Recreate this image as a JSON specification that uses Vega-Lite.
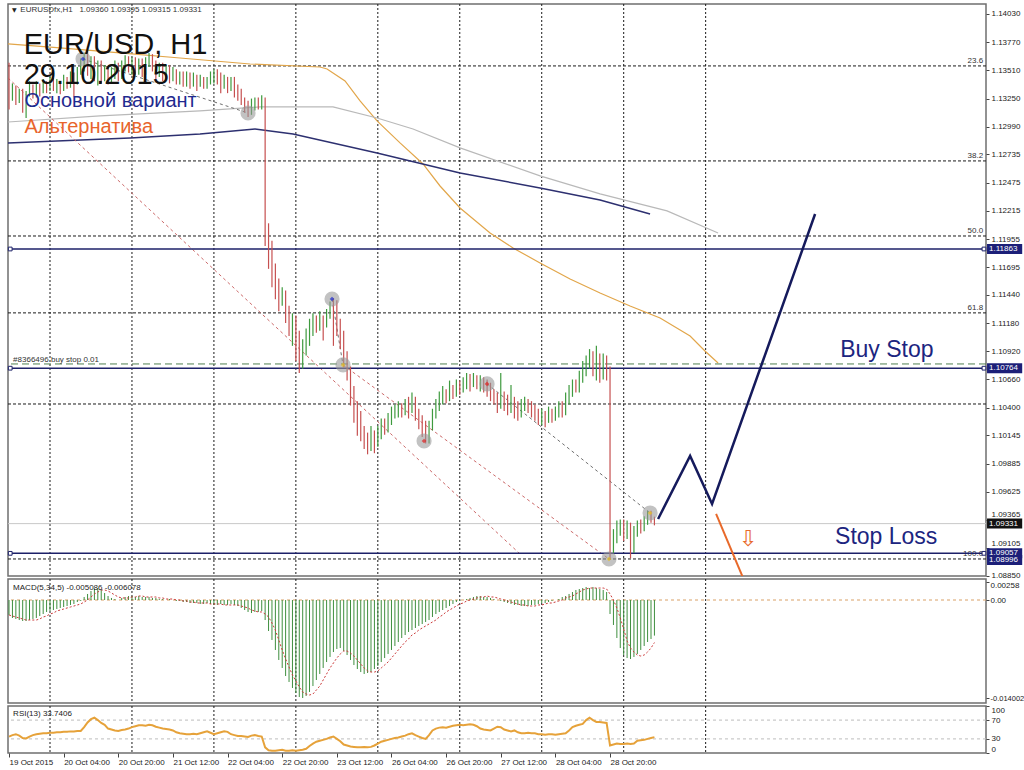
{
"$schema":"https://vega.github.io/schema/vega-lite/v6.json",
"padding":{"left":4,"top":2,"right":0,"bottom":0},
"background":"#ffffff",
"spacing":3,
"bounds":"flush",
"config":{"font":"Liberation Sans","view":{"stroke":"#6f6f6f","strokeWidth":1.5},"axis":{"labelFont":"Liberation Sans","labelFontSize":8,"labelColor":"#222","tickColor":"#444","domain":false,"grid":false,"title":null,"labelOverlap":false}},
"resolve":{"scale":{"x":"independent","y":"independent","color":"independent"}},
"datasets":{
"grid":[{"i":12},{"i":36},{"i":60},{"i":84},{"i":108},{"i":132},{"i":156},{"i":180},{"i":204}],
"fibo":[{"p":1.13551,"t":"23.6"},{"p":1.12675,"t":"38.2"},{"p":1.11983,"t":"50.0"},{"p":1.11274,"t":"61.8"},{"p":1.10434,"t":""},{"p":1.09005,"t":"100.0"}],
"ma":[
{"g":"ma1","i":-0.3,"p":1.13754},{"g":"ma1","i":14.93,"p":1.13717},{"g":"ma1","i":32.5,"p":1.13671},{"g":"ma1","i":50.07,"p":1.13624},{"g":"ma1","i":70.58,"p":1.13569},{"g":"ma1","i":91.08,"p":1.13541},{"g":"ma1","i":93.13,"p":1.13523},{"g":"ma1","i":98.4,"p":1.13412},{"g":"ma1","i":102.8,"p":1.13228},{"g":"ma1","i":107.77,"p":1.13044},{"g":"ma1","i":114.5,"p":1.12841},{"g":"ma1","i":121.24,"p":1.12647},{"g":"ma1","i":126.22,"p":1.12444},{"g":"ma1","i":132.08,"p":1.12241},{"g":"ma1","i":140.87,"p":1.12011},{"g":"ma1","i":147.6,"p":1.11873},{"g":"ma1","i":155.51,"p":1.11734},{"g":"ma1","i":164.3,"p":1.11587},{"g":"ma1","i":173.08,"p":1.11458},{"g":"ma1","i":181.87,"p":1.11338},{"g":"ma1","i":190.66,"p":1.11227},{"g":"ma1","i":199.45,"p":1.11061},{"g":"ma1","i":203.8,"p":1.10923},{"g":"ma1","i":207.64,"p":1.10812},
{"g":"ma2","i":-0.3,"p":1.13034},{"g":"ma2","i":26.64,"p":1.1309},{"g":"ma2","i":55.93,"p":1.13136},{"g":"ma2","i":73.5,"p":1.13173},{"g":"ma2","i":94.88,"p":1.13173},{"g":"ma2","i":107.77,"p":1.13071},{"g":"ma2","i":118.31,"p":1.1297},{"g":"ma2","i":132.08,"p":1.12795},{"g":"ma2","i":155.51,"p":1.12537},{"g":"ma2","i":173.08,"p":1.12371},{"g":"ma2","i":192.7,"p":1.12214},{"g":"ma2","i":207.64,"p":1.12011},
{"g":"ma3","i":-0.3,"p":1.12841},{"g":"ma3","i":35.43,"p":1.12887},{"g":"ma3","i":55.93,"p":1.12924},{"g":"ma3","i":72.04,"p":1.1297},{"g":"ma3","i":83.17,"p":1.12924},{"g":"ma3","i":107.77,"p":1.12749},{"g":"ma3","i":132.08,"p":1.12564},{"g":"ma3","i":155.51,"p":1.12426},{"g":"ma3","i":173.08,"p":1.12315},{"g":"ma3","i":187.72,"p":1.12186}],
"trendRed":[{"g":"a","i":-0.3,"p":1.1344},{"g":"a","i":149.65,"p":1.09051},{"g":"b","i":97.81,"p":1.10794},{"g":"b","i":175.69,"p":1.09005}],
"trendGray":[{"g":"c","i":21.67,"p":1.13615},{"g":"c","i":69.99,"p":1.13117},{"g":"d","i":139.99,"p":1.10619},{"g":"d","i":187.73,"p":1.09429},{"g":"e","i":94.59,"p":1.11402},{"g":"e","i":97.81,"p":1.10794}],
"hlines":[{"p":1.11863},{"p":1.10764},{"p":1.09057}],
"circles":[{"i":21.67,"p":1.13615,"k":"buy"},{"i":69.99,"p":1.13117,"k":"none"},{"i":94.59,"p":1.11402,"k":"buy"},{"i":97.81,"p":1.10794,"k":"close"},{"i":121.54,"p":1.10093,"k":"sell"},{"i":139.99,"p":1.10619,"k":"sell"},{"i":175.69,"p":1.09005,"k":"close"},{"i":187.73,"p":1.09429,"k":"close"}],
"forecast":[{"g":"main","i":190.07,"p":1.09374},{"g":"main","i":199.45,"p":1.09955},{"g":"main","i":205.88,"p":1.09512},{"g":"main","i":236.05,"p":1.12186},{"g":"alt","i":207.06,"p":1.0942},{"g":"alt","i":214.97,"p":1.0883}],
"tagsNavy":[{"p":1.11863,"t":"1.11863"},{"p":1.10764,"t":"1.10764"},{"p":1.08996,"t":"1.08996"},{"p":1.09057,"t":"1.09057"}],
"tagsBlack":[{"p":1.09331,"t":"1.09331"}],
"bars":[
{"i":0,"o":1.1349,"h":1.1358,"l":1.1315,"c":1.1327,"m":-0.00214,"s":-0.00214,"r":35},
{"i":1,"o":1.1327,"h":1.1339,"l":1.1323,"c":1.1332,"m":-0.00257,"s":-0.00229,"r":38},
{"i":2,"o":1.1332,"h":1.1337,"l":1.1319,"c":1.1325,"m":-0.00271,"s":-0.00243,"r":40},
{"i":3,"o":1.1325,"h":1.1334,"l":1.1321,"c":1.133,"m":-0.00286,"s":-0.00257,"r":37},
{"i":4,"o":1.133,"h":1.1334,"l":1.1312,"c":1.1318,"m":-0.003,"s":-0.00271,"r":32},
{"i":5,"o":1.1318,"h":1.1332,"l":1.1307,"c":1.133,"m":-0.003,"s":-0.00286,"r":31},
{"i":6,"o":1.133,"h":1.1341,"l":1.1327,"c":1.1334,"m":-0.00286,"s":-0.00286,"r":35},
{"i":7,"o":1.1334,"h":1.1338,"l":1.1325,"c":1.1328,"m":-0.00271,"s":-0.00286,"r":38},
{"i":8,"o":1.1328,"h":1.1341,"l":1.1326,"c":1.1336,"m":-0.00257,"s":-0.00286,"r":40},
{"i":9,"o":1.1336,"h":1.1339,"l":1.1327,"c":1.1332,"m":-0.00229,"s":-0.00271,"r":41},
{"i":10,"o":1.1332,"h":1.1343,"l":1.133,"c":1.1338,"m":-0.002,"s":-0.00243,"r":42},
{"i":11,"o":1.1338,"h":1.1341,"l":1.133,"c":1.1334,"m":-0.00171,"s":-0.00229,"r":42},
{"i":12,"o":1.1334,"h":1.1345,"l":1.1332,"c":1.1341,"m":-0.00157,"s":-0.002,"r":43},
{"i":13,"o":1.1341,"h":1.1344,"l":1.1332,"c":1.1336,"m":-0.00143,"s":-0.00186,"r":43},
{"i":14,"o":1.1336,"h":1.1343,"l":1.133,"c":1.1339,"m":-0.00129,"s":-0.00157,"r":44},
{"i":15,"o":1.1339,"h":1.1341,"l":1.1329,"c":1.1334,"m":-0.00114,"s":-0.00143,"r":44},
{"i":16,"o":1.1334,"h":1.1347,"l":1.1332,"c":1.1341,"m":-0.001,"s":-0.00129,"r":45},
{"i":17,"o":1.1341,"h":1.1345,"l":1.1334,"c":1.1338,"m":-0.00086,"s":-0.00114,"r":45},
{"i":18,"o":1.1338,"h":1.135,"l":1.1335,"c":1.1345,"m":-0.00071,"s":-0.001,"r":46},
{"i":19,"o":1.1345,"h":1.1349,"l":1.1327,"c":1.1341,"m":-0.00057,"s":-0.00086,"r":46},
{"i":20,"o":1.1341,"h":1.1354,"l":1.1338,"c":1.135,"m":-0.00029,"s":-0.00071,"r":47},
{"i":21,"o":1.135,"h":1.1362,"l":1.1347,"c":1.1356,"m":-0.00014,"s":-0.00057,"r":47},
{"i":22,"o":1.1356,"h":1.1367,"l":1.135,"c":1.136,"m":0.00043,"s":-0.00029,"r":55},
{"i":23,"o":1.136,"h":1.1369,"l":1.1346,"c":1.1352,"m":0.00086,"s":0,"r":65},
{"i":24,"o":1.1352,"h":1.1364,"l":1.1343,"c":1.1358,"m":0.00129,"s":0.00043,"r":72},
{"i":25,"o":1.1358,"h":1.1364,"l":1.1341,"c":1.1349,"m":0.00157,"s":0.00086,"r":75},
{"i":26,"o":1.1349,"h":1.136,"l":1.1337,"c":1.1354,"m":0.00171,"s":0.00114,"r":70},
{"i":27,"o":1.1354,"h":1.136,"l":1.1339,"c":1.1346,"m":0.00143,"s":0.00143,"r":64},
{"i":28,"o":1.1346,"h":1.1356,"l":1.1341,"c":1.135,"m":0.001,"s":0.00143,"r":60},
{"i":29,"o":1.135,"h":1.1354,"l":1.1338,"c":1.1343,"m":0.00057,"s":0.00129,"r":52},
{"i":30,"o":1.1343,"h":1.1354,"l":1.1339,"c":1.1349,"m":0.00029,"s":0.001,"r":50},
{"i":31,"o":1.1349,"h":1.136,"l":1.1343,"c":1.1352,"m":0.00014,"s":0.00071,"r":48},
{"i":32,"o":1.1352,"h":1.1358,"l":1.1341,"c":1.1347,"m":0,"s":0.00043,"r":47},
{"i":33,"o":1.1347,"h":1.136,"l":1.1343,"c":1.1354,"m":0.00029,"s":0.00029,"r":49},
{"i":34,"o":1.1354,"h":1.1365,"l":1.135,"c":1.136,"m":0.00043,"s":0.00029,"r":50},
{"i":35,"o":1.136,"h":1.1364,"l":1.1349,"c":1.1354,"m":0.00057,"s":0.00029,"r":52},
{"i":36,"o":1.1354,"h":1.1363,"l":1.1347,"c":1.1358,"m":0.00057,"s":0.00043,"r":55},
{"i":37,"o":1.1358,"h":1.1363,"l":1.1347,"c":1.1352,"m":0.00043,"s":0.00043,"r":57},
{"i":38,"o":1.1352,"h":1.1362,"l":1.1347,"c":1.1356,"m":0.00057,"s":0.00057,"r":59},
{"i":39,"o":1.1356,"h":1.1362,"l":1.1345,"c":1.135,"m":0.00043,"s":0.00057,"r":59},
{"i":40,"o":1.135,"h":1.1363,"l":1.1347,"c":1.1358,"m":0.00043,"s":0.00043,"r":58},
{"i":41,"o":1.1358,"h":1.1367,"l":1.1354,"c":1.1362,"m":0.00043,"s":0.00043,"r":60},
{"i":42,"o":1.1362,"h":1.1366,"l":1.135,"c":1.1354,"m":0.00029,"s":0.00043,"r":59},
{"i":43,"o":1.1354,"h":1.136,"l":1.1343,"c":1.1349,"m":0.00029,"s":0.00043,"r":56},
{"i":44,"o":1.1349,"h":1.1358,"l":1.1345,"c":1.1352,"m":0.00014,"s":0.00029,"r":54},
{"i":45,"o":1.1352,"h":1.1358,"l":1.1341,"c":1.1347,"m":0.00014,"s":0.00029,"r":52},
{"i":46,"o":1.1347,"h":1.1356,"l":1.1343,"c":1.135,"m":0,"s":0.00014,"r":51},
{"i":47,"o":1.135,"h":1.1356,"l":1.1339,"c":1.1345,"m":0.00014,"s":0.00014,"r":50},
{"i":48,"o":1.1345,"h":1.1354,"l":1.1341,"c":1.1349,"m":0,"s":0.00014,"r":48},
{"i":49,"o":1.1349,"h":1.1352,"l":1.1338,"c":1.1343,"m":-0.00014,"s":0,"r":44},
{"i":50,"o":1.1343,"h":1.135,"l":1.1338,"c":1.1347,"m":-0.00014,"s":0,"r":42},
{"i":51,"o":1.1347,"h":1.135,"l":1.1336,"c":1.1341,"m":-0.00029,"s":-0.00014,"r":41},
{"i":52,"o":1.1341,"h":1.135,"l":1.1336,"c":1.1345,"m":-0.00029,"s":-0.00014,"r":40},
{"i":53,"o":1.1345,"h":1.1349,"l":1.1334,"c":1.1339,"m":-0.00043,"s":-0.00029,"r":40},
{"i":54,"o":1.1339,"h":1.1349,"l":1.1336,"c":1.1343,"m":-0.00043,"s":-0.00029,"r":41},
{"i":55,"o":1.1343,"h":1.1347,"l":1.1332,"c":1.1339,"m":-0.00043,"s":-0.00043,"r":40},
{"i":56,"o":1.1339,"h":1.1347,"l":1.1336,"c":1.1341,"m":-0.00057,"s":-0.00043,"r":42},
{"i":57,"o":1.1341,"h":1.1345,"l":1.1334,"c":1.1338,"m":-0.00057,"s":-0.00043,"r":44},
{"i":58,"o":1.1338,"h":1.1345,"l":1.1334,"c":1.1341,"m":-0.00043,"s":-0.00043,"r":46},
{"i":59,"o":1.1341,"h":1.135,"l":1.1338,"c":1.1345,"m":-0.00057,"s":-0.00057,"r":43},
{"i":60,"o":1.1345,"h":1.1352,"l":1.1339,"c":1.1349,"m":-0.00071,"s":-0.00057,"r":40},
{"i":61,"o":1.1349,"h":1.1352,"l":1.1338,"c":1.1343,"m":-0.00071,"s":-0.00057,"r":42},
{"i":62,"o":1.1343,"h":1.1349,"l":1.133,"c":1.1338,"m":-0.00057,"s":-0.00057,"r":44},
{"i":63,"o":1.1338,"h":1.1347,"l":1.1334,"c":1.1341,"m":-0.00071,"s":-0.00071,"r":46},
{"i":64,"o":1.1341,"h":1.1345,"l":1.133,"c":1.1336,"m":-0.00071,"s":-0.00071,"r":45},
{"i":65,"o":1.1336,"h":1.1345,"l":1.1332,"c":1.1341,"m":-0.00057,"s":-0.00071,"r":40},
{"i":66,"o":1.1341,"h":1.1345,"l":1.1326,"c":1.1334,"m":-0.00071,"s":-0.00071,"r":38},
{"i":67,"o":1.1334,"h":1.1338,"l":1.1323,"c":1.1328,"m":-0.00086,"s":-0.00071,"r":36},
{"i":68,"o":1.1328,"h":1.1334,"l":1.1319,"c":1.1323,"m":-0.00114,"s":-0.00086,"r":36},
{"i":69,"o":1.1323,"h":1.1326,"l":1.1312,"c":1.1317,"m":-0.00143,"s":-0.001,"r":35},
{"i":70,"o":1.1317,"h":1.1323,"l":1.1308,"c":1.1314,"m":-0.00171,"s":-0.00114,"r":34},
{"i":71,"o":1.1314,"h":1.1325,"l":1.131,"c":1.1319,"m":-0.00186,"s":-0.00143,"r":37},
{"i":72,"o":1.1319,"h":1.1326,"l":1.1314,"c":1.1323,"m":-0.00171,"s":-0.00157,"r":38},
{"i":73,"o":1.1323,"h":1.1326,"l":1.1315,"c":1.1319,"m":-0.00171,"s":-0.00171,"r":36},
{"i":74,"o":1.1319,"h":1.1328,"l":1.1315,"c":1.1325,"m":-0.00157,"s":-0.00171,"r":35},
{"i":75,"o":1.1325,"h":1.1326,"l":1.1189,"c":1.1197,"m":-0.00286,"s":-0.002,"r":12},
{"i":76,"o":1.1197,"h":1.121,"l":1.1168,"c":1.1185,"m":-0.00443,"s":-0.00243,"r":6},
{"i":77,"o":1.1185,"h":1.1194,"l":1.1151,"c":1.1164,"m":-0.00571,"s":-0.00329,"r":5},
{"i":78,"o":1.1164,"h":1.1173,"l":1.114,"c":1.1152,"m":-0.00714,"s":-0.00429,"r":5},
{"i":79,"o":1.1152,"h":1.1159,"l":1.1129,"c":1.1138,"m":-0.00857,"s":-0.00571,"r":6},
{"i":80,"o":1.1138,"h":1.1151,"l":1.1134,"c":1.1143,"m":-0.00971,"s":-0.00714,"r":7},
{"i":81,"o":1.1143,"h":1.1148,"l":1.1118,"c":1.1127,"m":-0.01086,"s":-0.00843,"r":5},
{"i":82,"o":1.1127,"h":1.1134,"l":1.1106,"c":1.1115,"m":-0.01171,"s":-0.00957,"r":5},
{"i":83,"o":1.1115,"h":1.1127,"l":1.1097,"c":1.112,"m":-0.01257,"s":-0.01071,"r":6},
{"i":84,"o":1.112,"h":1.1125,"l":1.1083,"c":1.1102,"m":-0.01329,"s":-0.01157,"r":5},
{"i":85,"o":1.1102,"h":1.1111,"l":1.1072,"c":1.1088,"m":-0.01386,"s":-0.01243,"r":6},
{"i":86,"o":1.1088,"h":1.1103,"l":1.1076,"c":1.1097,"m":-0.014,"s":-0.01314,"r":7},
{"i":87,"o":1.1097,"h":1.1113,"l":1.1088,"c":1.1106,"m":-0.01371,"s":-0.01343,"r":9},
{"i":88,"o":1.1106,"h":1.1122,"l":1.1097,"c":1.1115,"m":-0.01314,"s":-0.01357,"r":15},
{"i":89,"o":1.1115,"h":1.1127,"l":1.1106,"c":1.112,"m":-0.01229,"s":-0.01343,"r":20},
{"i":90,"o":1.112,"h":1.1125,"l":1.1109,"c":1.1115,"m":-0.01143,"s":-0.01286,"r":24},
{"i":91,"o":1.1115,"h":1.1129,"l":1.1111,"c":1.1122,"m":-0.01057,"s":-0.01229,"r":26},
{"i":92,"o":1.1122,"h":1.1125,"l":1.1102,"c":1.1118,"m":-0.00971,"s":-0.01143,"r":28},
{"i":93,"o":1.1118,"h":1.1131,"l":1.1114,"c":1.1127,"m":-0.00886,"s":-0.01057,"r":30},
{"i":94,"o":1.1127,"h":1.1138,"l":1.1122,"c":1.1134,"m":-0.00814,"s":-0.00971,"r":33},
{"i":95,"o":1.1134,"h":1.1141,"l":1.1097,"c":1.1129,"m":-0.00743,"s":-0.009,"r":35},
{"i":96,"o":1.1129,"h":1.1139,"l":1.1106,"c":1.1115,"m":-0.007,"s":-0.00829,"r":30},
{"i":97,"o":1.1115,"h":1.1122,"l":1.1094,"c":1.1102,"m":-0.00686,"s":-0.00771,"r":25},
{"i":98,"o":1.1102,"h":1.1111,"l":1.1077,"c":1.1085,"m":-0.00729,"s":-0.00729,"r":18},
{"i":99,"o":1.1085,"h":1.1092,"l":1.1065,"c":1.1072,"m":-0.00786,"s":-0.00729,"r":16},
{"i":100,"o":1.1072,"h":1.1078,"l":1.1042,"c":1.1055,"m":-0.00857,"s":-0.00757,"r":14},
{"i":101,"o":1.1055,"h":1.106,"l":1.1026,"c":1.1037,"m":-0.00929,"s":-0.008,"r":13},
{"i":102,"o":1.1037,"h":1.1046,"l":1.1014,"c":1.1028,"m":-0.00986,"s":-0.00857,"r":12},
{"i":103,"o":1.1028,"h":1.1037,"l":1.1009,"c":1.1017,"m":-0.01029,"s":-0.00914,"r":12},
{"i":104,"o":1.1017,"h":1.1023,"l":1.1002,"c":1.1009,"m":-0.01057,"s":-0.00971,"r":13},
{"i":105,"o":1.1009,"h":1.1017,"l":1.0997,"c":1.1005,"m":-0.01043,"s":-0.01014,"r":12},
{"i":106,"o":1.1005,"h":1.1023,"l":1.1,"c":1.1011,"m":-0.01029,"s":-0.01029,"r":13},
{"i":107,"o":1.1011,"h":1.1019,"l":1.0998,"c":1.1007,"m":-0.00986,"s":-0.01029,"r":16},
{"i":108,"o":1.1007,"h":1.1023,"l":1.1004,"c":1.1017,"m":-0.00943,"s":-0.01014,"r":20},
{"i":109,"o":1.1017,"h":1.103,"l":1.1011,"c":1.1023,"m":-0.00886,"s":-0.00971,"r":24},
{"i":110,"o":1.1023,"h":1.103,"l":1.1015,"c":1.102,"m":-0.00829,"s":-0.00929,"r":26},
{"i":111,"o":1.102,"h":1.1035,"l":1.1017,"c":1.103,"m":-0.00771,"s":-0.00886,"r":28},
{"i":112,"o":1.103,"h":1.1041,"l":1.1024,"c":1.1033,"m":-0.00714,"s":-0.00829,"r":30},
{"i":113,"o":1.1033,"h":1.1043,"l":1.103,"c":1.1037,"m":-0.00657,"s":-0.00771,"r":32},
{"i":114,"o":1.1037,"h":1.1046,"l":1.1031,"c":1.1041,"m":-0.006,"s":-0.00714,"r":33},
{"i":115,"o":1.1041,"h":1.1044,"l":1.1031,"c":1.1037,"m":-0.00543,"s":-0.00657,"r":35},
{"i":116,"o":1.1037,"h":1.1048,"l":1.1033,"c":1.1044,"m":-0.005,"s":-0.006,"r":37},
{"i":117,"o":1.1044,"h":1.105,"l":1.103,"c":1.1041,"m":-0.00457,"s":-0.00557,"r":40},
{"i":118,"o":1.1041,"h":1.1054,"l":1.1035,"c":1.1046,"m":-0.00429,"s":-0.005,"r":42},
{"i":119,"o":1.1046,"h":1.105,"l":1.1028,"c":1.1035,"m":-0.004,"s":-0.00471,"r":38},
{"i":120,"o":1.1035,"h":1.1039,"l":1.102,"c":1.1028,"m":-0.00371,"s":-0.00429,"r":35},
{"i":121,"o":1.1028,"h":1.1033,"l":1.1013,"c":1.102,"m":-0.00343,"s":-0.004,"r":32},
{"i":122,"o":1.102,"h":1.1028,"l":1.1007,"c":1.1011,"m":-0.00314,"s":-0.00371,"r":30},
{"i":123,"o":1.1011,"h":1.1028,"l":1.1007,"c":1.1023,"m":-0.00286,"s":-0.00343,"r":38},
{"i":124,"o":1.1023,"h":1.1039,"l":1.1019,"c":1.1035,"m":-0.00243,"s":-0.00314,"r":48},
{"i":125,"o":1.1035,"h":1.1048,"l":1.103,"c":1.1042,"m":-0.002,"s":-0.00286,"r":52},
{"i":126,"o":1.1042,"h":1.1055,"l":1.1037,"c":1.1048,"m":-0.00171,"s":-0.00243,"r":54},
{"i":127,"o":1.1048,"h":1.106,"l":1.1043,"c":1.1054,"m":-0.00143,"s":-0.00214,"r":55},
{"i":128,"o":1.1054,"h":1.1057,"l":1.1044,"c":1.105,"m":-0.00114,"s":-0.00171,"r":54},
{"i":129,"o":1.105,"h":1.1065,"l":1.1046,"c":1.1057,"m":-0.00086,"s":-0.00143,"r":56},
{"i":130,"o":1.1057,"h":1.1061,"l":1.1048,"c":1.1054,"m":-0.00057,"s":-0.00114,"r":58},
{"i":131,"o":1.1054,"h":1.1066,"l":1.105,"c":1.106,"m":-0.00029,"s":-0.00086,"r":59},
{"i":132,"o":1.106,"h":1.1065,"l":1.1052,"c":1.1055,"m":-0.00014,"s":-0.00057,"r":60},
{"i":133,"o":1.1055,"h":1.1068,"l":1.1054,"c":1.1063,"m":0,"s":-0.00043,"r":59},
{"i":134,"o":1.1063,"h":1.1072,"l":1.1057,"c":1.1066,"m":0.00014,"s":-0.00014,"r":60},
{"i":135,"o":1.1066,"h":1.1071,"l":1.1055,"c":1.1063,"m":0.00029,"s":0,"r":61},
{"i":136,"o":1.1063,"h":1.1072,"l":1.1059,"c":1.1068,"m":0.00043,"s":0.00014,"r":60},
{"i":137,"o":1.1068,"h":1.107,"l":1.1057,"c":1.1063,"m":0.00057,"s":0.00029,"r":57},
{"i":138,"o":1.1063,"h":1.107,"l":1.1055,"c":1.1065,"m":0.00057,"s":0.00043,"r":52},
{"i":139,"o":1.1065,"h":1.1068,"l":1.1054,"c":1.106,"m":0.00043,"s":0.00043,"r":50},
{"i":140,"o":1.106,"h":1.1066,"l":1.105,"c":1.1057,"m":0.00043,"s":0.00057,"r":49},
{"i":141,"o":1.1057,"h":1.1063,"l":1.1046,"c":1.1052,"m":0.00029,"s":0.00043,"r":48},
{"i":142,"o":1.1052,"h":1.1057,"l":1.1043,"c":1.1048,"m":0.00014,"s":0.00043,"r":52},
{"i":143,"o":1.1048,"h":1.1054,"l":1.1035,"c":1.1043,"m":0,"s":0.00029,"r":56},
{"i":144,"o":1.1043,"h":1.1072,"l":1.1039,"c":1.105,"m":-0.00014,"s":0.00014,"r":55},
{"i":145,"o":1.105,"h":1.1055,"l":1.1037,"c":1.1044,"m":-0.00029,"s":0,"r":50},
{"i":146,"o":1.1044,"h":1.1052,"l":1.1033,"c":1.1041,"m":-0.00043,"s":-0.00014,"r":48},
{"i":147,"o":1.1041,"h":1.1061,"l":1.1035,"c":1.1046,"m":-0.00057,"s":-0.00029,"r":46},
{"i":148,"o":1.1046,"h":1.105,"l":1.103,"c":1.1039,"m":-0.00071,"s":-0.00043,"r":48},
{"i":149,"o":1.1039,"h":1.1046,"l":1.1028,"c":1.1035,"m":-0.00071,"s":-0.00057,"r":44},
{"i":150,"o":1.1035,"h":1.1048,"l":1.1031,"c":1.1042,"m":-0.00086,"s":-0.00071,"r":42},
{"i":151,"o":1.1042,"h":1.105,"l":1.1037,"c":1.1044,"m":-0.00086,"s":-0.00071,"r":42},
{"i":152,"o":1.1044,"h":1.1048,"l":1.1035,"c":1.1041,"m":-0.00086,"s":-0.00086,"r":43},
{"i":153,"o":1.1041,"h":1.1046,"l":1.1031,"c":1.1037,"m":-0.00071,"s":-0.00086,"r":42},
{"i":154,"o":1.1037,"h":1.1043,"l":1.1028,"c":1.1033,"m":-0.00071,"s":-0.00086,"r":42},
{"i":155,"o":1.1033,"h":1.1039,"l":1.1024,"c":1.103,"m":-0.00057,"s":-0.00071,"r":40},
{"i":156,"o":1.103,"h":1.1039,"l":1.1024,"c":1.1033,"m":-0.00043,"s":-0.00071,"r":40},
{"i":157,"o":1.1033,"h":1.1037,"l":1.1022,"c":1.103,"m":-0.00043,"s":-0.00057,"r":39},
{"i":158,"o":1.103,"h":1.1041,"l":1.1026,"c":1.1035,"m":-0.00029,"s":-0.00043,"r":40},
{"i":159,"o":1.1035,"h":1.1039,"l":1.1026,"c":1.1031,"m":-0.00014,"s":-0.00043,"r":40},
{"i":160,"o":1.1031,"h":1.1041,"l":1.1028,"c":1.1035,"m":0,"s":-0.00029,"r":39},
{"i":161,"o":1.1035,"h":1.1046,"l":1.1031,"c":1.1041,"m":0.00014,"s":-0.00014,"r":40},
{"i":162,"o":1.1041,"h":1.1046,"l":1.1031,"c":1.1037,"m":0.00043,"s":0,"r":41},
{"i":163,"o":1.1037,"h":1.1054,"l":1.1033,"c":1.1046,"m":0.00057,"s":0.00029,"r":42},
{"i":164,"o":1.1046,"h":1.1061,"l":1.1043,"c":1.1054,"m":0.00086,"s":0.00043,"r":48},
{"i":165,"o":1.1054,"h":1.1066,"l":1.105,"c":1.1061,"m":0.00114,"s":0.00057,"r":55},
{"i":166,"o":1.1061,"h":1.1066,"l":1.1054,"c":1.1057,"m":0.00143,"s":0.00086,"r":58},
{"i":167,"o":1.1057,"h":1.1074,"l":1.1054,"c":1.1066,"m":0.00157,"s":0.00114,"r":60},
{"i":168,"o":1.1066,"h":1.1083,"l":1.1063,"c":1.1076,"m":0.00171,"s":0.00143,"r":62},
{"i":169,"o":1.1076,"h":1.1088,"l":1.1069,"c":1.1081,"m":0.00186,"s":0.00157,"r":70},
{"i":170,"o":1.1081,"h":1.1094,"l":1.1076,"c":1.1088,"m":0.00171,"s":0.00171,"r":75},
{"i":171,"o":1.1088,"h":1.1092,"l":1.1069,"c":1.1078,"m":0.00186,"s":0.00171,"r":70},
{"i":172,"o":1.1078,"h":1.1097,"l":1.1065,"c":1.1085,"m":0.00171,"s":0.00171,"r":66},
{"i":173,"o":1.1085,"h":1.109,"l":1.1063,"c":1.1076,"m":0.00157,"s":0.00171,"r":66},
{"i":174,"o":1.1076,"h":1.109,"l":1.1066,"c":1.1083,"m":0.00143,"s":0.00171,"r":65},
{"i":175,"o":1.1083,"h":1.1088,"l":1.1065,"c":1.1074,"m":0.00114,"s":0.00157,"r":64},
{"i":176,"o":1.1074,"h":1.1078,"l":1.09,"c":1.0913,"m":-0.002,"s":0.00086,"r":16},
{"i":177,"o":1.0913,"h":1.0928,"l":1.0906,"c":1.0922,"m":-0.00357,"s":0,"r":18},
{"i":178,"o":1.0922,"h":1.0936,"l":1.0915,"c":1.0928,"m":-0.00543,"s":-0.00114,"r":20},
{"i":179,"o":1.0928,"h":1.0937,"l":1.0922,"c":1.0932,"m":-0.00686,"s":-0.00257,"r":19},
{"i":180,"o":1.0932,"h":1.0937,"l":1.0917,"c":1.0926,"m":-0.00786,"s":-0.00414,"r":19},
{"i":181,"o":1.0926,"h":1.0936,"l":1.0919,"c":1.093,"m":-0.00829,"s":-0.00586,"r":20},
{"i":182,"o":1.093,"h":1.0934,"l":1.0901,"c":1.0917,"m":-0.00843,"s":-0.00686,"r":19},
{"i":183,"o":1.0917,"h":1.0931,"l":1.0906,"c":1.0926,"m":-0.00814,"s":-0.00743,"r":20},
{"i":184,"o":1.0926,"h":1.0936,"l":1.0921,"c":1.0932,"m":-0.00771,"s":-0.00786,"r":26},
{"i":185,"o":1.0932,"h":1.0937,"l":1.0924,"c":1.0928,"m":-0.00714,"s":-0.008,"r":27},
{"i":186,"o":1.0928,"h":1.094,"l":1.0926,"c":1.0936,"m":-0.00657,"s":-0.00786,"r":28},
{"i":187,"o":1.0936,"h":1.0945,"l":1.0932,"c":1.0939,"m":-0.006,"s":-0.00743,"r":30},
{"i":188,"o":1.0939,"h":1.0945,"l":1.0934,"c":1.0936,"m":-0.00557,"s":-0.00686,"r":32},
{"i":189,"o":1.0936,"h":1.09395,"l":1.09315,"c":1.09331,"m":-0.005086,"s":-0.006078,"r":33.7406}
]},
"vconcat":[
{"width":978,"height":572,
"resolve":{"axis":{"x":"independent","y":"independent"}},
"layer":[
{"data":{"name":"grid"},"mark":{"type":"rule","color":"#1a1a1a","strokeDash":[2,2],"strokeWidth":1},"encoding":{"x":{"field":"i","type":"quantitative","scale":{"domain":[-0.3,286.1],"nice":false,"zero":false},"axis":null}}},
{"data":{"name":"fibo"},"mark":{"type":"rule","color":"#1a1a1a","strokeDash":[3,2],"strokeWidth":1},"encoding":{"y":{"field":"p","type":"quantitative","scale":{"domain":[1.08848,1.14122],"nice":false,"zero":false},"axis":null}}},
{"data":{"name":"fibo"},"mark":{"type":"text","align":"right","baseline":"bottom","dy":-1,"fontSize":8,"color":"#333"},"encoding":{"x":{"datum":285.25,"type":"quantitative","scale":{"domain":[-0.3,286.1],"nice":false,"zero":false},"axis":null},"y":{"field":"p","type":"quantitative","scale":{"domain":[1.08848,1.14122],"nice":false,"zero":false},"axis":null},"text":{"field":"t"}}},
{"data":{"name":"ma"},"transform":[{"filter":"datum.g=='ma1'"}],"mark":{"type":"line","color":"#e2a64a","strokeWidth":1.2},"encoding":{"x":{"field":"i","type":"quantitative","scale":{"domain":[-0.3,286.1],"nice":false,"zero":false},"axis":null},"y":{"field":"p","type":"quantitative","scale":{"domain":[1.08848,1.14122],"nice":false,"zero":false},"axis":null}}},
{"data":{"name":"ma"},"transform":[{"filter":"datum.g=='ma2'"}],"mark":{"type":"line","color":"#b9b9b9","strokeWidth":1.2},"encoding":{"x":{"field":"i","type":"quantitative","scale":{"domain":[-0.3,286.1],"nice":false,"zero":false},"axis":null},"y":{"field":"p","type":"quantitative","scale":{"domain":[1.08848,1.14122],"nice":false,"zero":false},"axis":null}}},
{"data":{"name":"ma"},"transform":[{"filter":"datum.g=='ma3'"}],"mark":{"type":"line","color":"#2d3070","strokeWidth":1.5},"encoding":{"x":{"field":"i","type":"quantitative","scale":{"domain":[-0.3,286.1],"nice":false,"zero":false},"axis":null},"y":{"field":"p","type":"quantitative","scale":{"domain":[1.08848,1.14122],"nice":false,"zero":false},"axis":null}}},
{"data":{"name":"trendRed"},"mark":{"type":"line","color":"#cc6a6a","strokeDash":[3,3],"strokeWidth":1},"encoding":{"x":{"field":"i","type":"quantitative","scale":{"domain":[-0.3,286.1],"nice":false,"zero":false},"axis":null},"y":{"field":"p","type":"quantitative","scale":{"domain":[1.08848,1.14122],"nice":false,"zero":false},"axis":null},"detail":{"field":"g"}}},
{"data":{"name":"trendGray"},"mark":{"type":"line","color":"#707070","strokeDash":[3,3],"strokeWidth":1},"encoding":{"x":{"field":"i","type":"quantitative","scale":{"domain":[-0.3,286.1],"nice":false,"zero":false},"axis":null},"y":{"field":"p","type":"quantitative","scale":{"domain":[1.08848,1.14122],"nice":false,"zero":false},"axis":null},"detail":{"field":"g"}}},
{"data":{"name":"hlines"},"mark":{"type":"rule","color":"#1c2068","strokeWidth":1.5},"encoding":{"y":{"field":"p","type":"quantitative","scale":{"domain":[1.08848,1.14122],"nice":false,"zero":false},"axis":null}}},
{"data":{"values":[{"p":1.10803}]},"mark":{"type":"rule","color":"#4f7f4f","strokeDash":[7,4],"strokeWidth":1},"encoding":{"y":{"field":"p","type":"quantitative","scale":{"domain":[1.08848,1.14122],"nice":false,"zero":false},"axis":null}}},
{"data":{"values":[{"p":1.09331}]},"mark":{"type":"rule","color":"#c8c8c8","strokeWidth":1},"encoding":{"y":{"field":"p","type":"quantitative","scale":{"domain":[1.08848,1.14122],"nice":false,"zero":false},"axis":null}}},
{"data":{"name":"bars"},"mark":{"type":"rule","strokeWidth":1.2},"encoding":{"x":{"field":"i","type":"quantitative","scale":{"domain":[-0.3,286.1],"nice":false,"zero":false},"axis":null},"y":{"field":"l","type":"quantitative","scale":{"domain":[1.08848,1.14122],"nice":false,"zero":false},"axis":{"orient":"right","values":[1.1403,1.1377,1.1351,1.1325,1.1299,1.12735,1.12475,1.12215,1.11955,1.11695,1.1144,1.1118,1.1092,1.1066,1.104,1.10145,1.09885,1.09625,1.09365,1.09105,1.0885],"format":".5f","tickSize":3,"labelPadding":2,"labelOverlap":false,"labelBound":false,"labelOffset":{"condition":{"test":"datum.value > 1.0909 && datum.value < 1.0938","value":-5},"value":0},"title":null}},"y2":{"field":"h"},"color":{"condition":{"test":"datum.c >= datum.o","value":"#3e9a3e"},"value":"#c65050"}}},
{"data":{"name":"circles"},"mark":{"type":"point","filled":true,"color":"#9a9a9a","opacity":0.6,"size":230},"encoding":{"x":{"field":"i","type":"quantitative","scale":{"domain":[-0.3,286.1],"nice":false,"zero":false},"axis":null},"y":{"field":"p","type":"quantitative","scale":{"domain":[1.08848,1.14122],"nice":false,"zero":false},"axis":null}}},
{"data":{"name":"circles"},"transform":[{"filter":"datum.k!='none'"}],"mark":{"type":"point","filled":true,"shape":"diamond","size":22},"encoding":{"x":{"field":"i","type":"quantitative","scale":{"domain":[-0.3,286.1],"nice":false,"zero":false},"axis":null},"y":{"field":"p","type":"quantitative","scale":{"domain":[1.08848,1.14122],"nice":false,"zero":false},"axis":null},"color":{"field":"k","type":"nominal","scale":{"domain":["buy","sell","close"],"range":["#1a2ad0","#e02020","#e8c020"]},"legend":null}}},
{"data":{"name":"forecast"},"transform":[{"filter":"datum.g=='main'"}],"mark":{"type":"line","color":"#151a5c","strokeWidth":2.5},"encoding":{"x":{"field":"i","type":"quantitative","scale":{"domain":[-0.3,286.1],"nice":false,"zero":false},"axis":null},"y":{"field":"p","type":"quantitative","scale":{"domain":[1.08848,1.14122],"nice":false,"zero":false},"axis":null}}},
{"data":{"name":"forecast"},"transform":[{"filter":"datum.g=='alt'"}],"mark":{"type":"line","color":"#e8692a","strokeWidth":2,"clip":true},"encoding":{"x":{"field":"i","type":"quantitative","scale":{"domain":[-0.3,286.1],"nice":false,"zero":false},"axis":null},"y":{"field":"p","type":"quantitative","scale":{"domain":[1.08848,1.14122],"nice":false,"zero":false},"axis":null}}},
{"data":{"values":[{"i":4.3,"p":1.13661,"t":"EUR/USD, H1"},{"i":4.3,"p":1.13385,"t":"29.10.2015"}]},"mark":{"type":"text","align":"left","baseline":"alphabetic","fontSize":29,"font":"Liberation Sans","color":"#111111"},"encoding":{"x":{"field":"i","type":"quantitative","scale":{"domain":[-0.3,286.1],"nice":false,"zero":false},"axis":null},"y":{"field":"p","type":"quantitative","scale":{"domain":[1.08848,1.14122],"nice":false,"zero":false},"axis":null},"text":{"field":"t"}}},
{"data":{"values":[{"i":4.5,"p":1.13173,"t":"Основной вариант"}]},"mark":{"type":"text","align":"left","baseline":"alphabetic","fontSize":20,"font":"Liberation Sans","color":"#1f2a8f"},"encoding":{"x":{"field":"i","type":"quantitative","scale":{"domain":[-0.3,286.1],"nice":false,"zero":false},"axis":null},"y":{"field":"p","type":"quantitative","scale":{"domain":[1.08848,1.14122],"nice":false,"zero":false},"axis":null},"text":{"field":"t"}}},
{"data":{"values":[{"i":4.5,"p":1.12933,"t":"Альтернатива"}]},"mark":{"type":"text","align":"left","baseline":"alphabetic","fontSize":20,"font":"Liberation Sans","color":"#e8642c"},"encoding":{"x":{"field":"i","type":"quantitative","scale":{"domain":[-0.3,286.1],"nice":false,"zero":false},"axis":null},"y":{"field":"p","type":"quantitative","scale":{"domain":[1.08848,1.14122],"nice":false,"zero":false},"axis":null},"text":{"field":"t"}}},
{"data":{"values":[{"i":243.4,"p":1.10868,"t":"Buy Stop"},{"i":241.9,"p":1.09144,"t":"Stop Loss"}]},"mark":{"type":"text","align":"left","baseline":"alphabetic","fontSize":23,"font":"Liberation Sans","color":"#1c2580"},"encoding":{"x":{"field":"i","type":"quantitative","scale":{"domain":[-0.3,286.1],"nice":false,"zero":false},"axis":null},"y":{"field":"p","type":"quantitative","scale":{"domain":[1.08848,1.14122],"nice":false,"zero":false},"axis":null},"text":{"field":"t"}}},
{"data":{"values":[{"i":216.4,"p":1.0919,"t":"⇩"}]},"mark":{"type":"text","align":"center","baseline":"middle","fontSize":22,"font":"DejaVu Sans","color":"#e8692a"},"encoding":{"x":{"field":"i","type":"quantitative","scale":{"domain":[-0.3,286.1],"nice":false,"zero":false},"axis":null},"y":{"field":"p","type":"quantitative","scale":{"domain":[1.08848,1.14122],"nice":false,"zero":false},"axis":null},"text":{"field":"t"}}},
{"data":{"values":[{"i":0.9,"p":1.14067,"t":"▼"}]},"mark":{"type":"text","align":"left","baseline":"middle","fontSize":6,"font":"DejaVu Sans","color":"#222"},"encoding":{"x":{"field":"i","type":"quantitative","scale":{"domain":[-0.3,286.1],"nice":false,"zero":false},"axis":null},"y":{"field":"p","type":"quantitative","scale":{"domain":[1.08848,1.14122],"nice":false,"zero":false},"axis":null},"text":{"field":"t"}}},
{"data":{"values":[{"i":3.3,"p":1.14067,"t":"EURUSDfx,H1\u00a0\u00a0\u00a01.09360 1.09395 1.09315 1.09331"},{"i":1.2,"p":1.1084,"t":"#8366496 buy stop 0.01"}]},"mark":{"type":"text","align":"left","baseline":"middle","fontSize":8,"font":"Liberation Sans","color":"#333"},"encoding":{"x":{"field":"i","type":"quantitative","scale":{"domain":[-0.3,286.1],"nice":false,"zero":false},"axis":null},"y":{"field":"p","type":"quantitative","scale":{"domain":[1.08848,1.14122],"nice":false,"zero":false},"axis":null},"text":{"field":"t"}}},
{"data":{"name":"hlines"},"mark":{"type":"point","shape":"square","filled":true,"fill":"#ffffff","stroke":"#1c2068","strokeWidth":1,"size":14,"opacity":1},"encoding":{"x":{"datum":0.35,"type":"quantitative","scale":{"domain":[-0.3,286.1],"nice":false,"zero":false},"axis":null},"y":{"field":"p","type":"quantitative","scale":{"domain":[1.08848,1.14122],"nice":false,"zero":false},"axis":null}}},
{"data":{"name":"hlines"},"mark":{"type":"point","shape":"square","filled":true,"fill":"#ffffff","stroke":"#1c2068","strokeWidth":1,"size":14,"opacity":1},"encoding":{"x":{"datum":285.5,"type":"quantitative","scale":{"domain":[-0.3,286.1],"nice":false,"zero":false},"axis":null},"y":{"field":"p","type":"quantitative","scale":{"domain":[1.08848,1.14122],"nice":false,"zero":false},"axis":null}}},
{"data":{"name":"tagsNavy"},"mark":{"type":"rule","color":"#1c1f78","strokeWidth":10,"strokeCap":"butt"},"encoding":{"x":{"datum":286.4,"type":"quantitative","scale":{"domain":[-0.3,286.1],"nice":false,"zero":false},"axis":null},"x2":{"datum":296.7},"y":{"field":"p","type":"quantitative","scale":{"domain":[1.08848,1.14122],"nice":false,"zero":false},"axis":null}}},
{"data":{"name":"tagsNavy"},"mark":{"type":"text","align":"left","baseline":"middle","fontSize":8,"font":"Liberation Sans","color":"#ffffff"},"encoding":{"x":{"datum":287.0,"type":"quantitative","scale":{"domain":[-0.3,286.1],"nice":false,"zero":false},"axis":null},"y":{"field":"p","type":"quantitative","scale":{"domain":[1.08848,1.14122],"nice":false,"zero":false},"axis":null},"text":{"field":"t"}}},
{"data":{"name":"tagsBlack"},"mark":{"type":"rule","color":"#111111","strokeWidth":10,"strokeCap":"butt"},"encoding":{"x":{"datum":286.4,"type":"quantitative","scale":{"domain":[-0.3,286.1],"nice":false,"zero":false},"axis":null},"x2":{"datum":296.7},"y":{"field":"p","type":"quantitative","scale":{"domain":[1.08848,1.14122],"nice":false,"zero":false},"axis":null}}},
{"data":{"name":"tagsBlack"},"mark":{"type":"text","align":"left","baseline":"middle","fontSize":8,"font":"Liberation Sans","color":"#ffffff"},"encoding":{"x":{"datum":287.0,"type":"quantitative","scale":{"domain":[-0.3,286.1],"nice":false,"zero":false},"axis":null},"y":{"field":"p","type":"quantitative","scale":{"domain":[1.08848,1.14122],"nice":false,"zero":false},"axis":null},"text":{"field":"t"}}}
]},
{"width":978,"height":124,
"resolve":{"axis":{"x":"independent","y":"independent"}},
"layer":[
{"data":{"name":"grid"},"mark":{"type":"rule","color":"#1a1a1a","strokeDash":[2,2],"strokeWidth":1},"encoding":{"x":{"field":"i","type":"quantitative","scale":{"domain":[-0.3,286.1],"nice":false,"zero":false},"axis":null}}},
{"data":{"values":[{"v":0}]},"mark":{"type":"rule","color":"#d9a066","strokeDash":[3,3],"strokeWidth":1},"encoding":{"y":{"field":"v","type":"quantitative","scale":{"domain":[-0.014714,0.003],"nice":false,"zero":false},"axis":null}}},
{"data":{"name":"bars"},"mark":{"type":"rule","color":"#3f8f3f","strokeWidth":1},"encoding":{"x":{"field":"i","type":"quantitative","scale":{"domain":[-0.3,286.1],"nice":false,"zero":false},"axis":null},"y":{"field":"m","type":"quantitative","scale":{"domain":[-0.014714,0.003],"nice":false,"zero":false},"axis":{"orient":"right","values":[0.00258,0,-0.014002],"labelExpr":"datum.value == 0 ? '0.00' : (datum.value > 0 ? '0.00258' : '-0.014002')","labelBaseline":{"condition":{"test":"datum.value > 0.001","value":"top"},"value":"middle"},"labelFontSize":{"condition":{"test":"datum.value < -0.001","value":7.5},"value":8},"tickSize":3,"labelPadding":1,"labelOverlap":false,"title":null}},"y2":{"datum":0}}},
{"data":{"name":"bars"},"mark":{"type":"line","color":"#cc3b3b","strokeDash":[2,2],"strokeWidth":1},"encoding":{"x":{"field":"i","type":"quantitative","scale":{"domain":[-0.3,286.1],"nice":false,"zero":false},"axis":null},"y":{"field":"s","type":"quantitative","scale":{"domain":[-0.014714,0.003],"nice":false,"zero":false},"axis":null}}},
{"data":{"values":[{"i":1.2,"v":0.00171,"t":"MACD(5,34,5) -0.005086 -0.006078"}]},"mark":{"type":"text","align":"left","baseline":"middle","fontSize":8,"font":"Liberation Sans","color":"#222"},"encoding":{"x":{"field":"i","type":"quantitative","scale":{"domain":[-0.3,286.1],"nice":false,"zero":false},"axis":null},"y":{"field":"v","type":"quantitative","scale":{"domain":[-0.014714,0.003],"nice":false,"zero":false},"axis":null},"text":{"field":"t"}}}
]},
{"width":978,"height":47,
"resolve":{"axis":{"x":"independent","y":"independent"}},
"layer":[
{"data":{"name":"grid"},"mark":{"type":"rule","color":"#1a1a1a","strokeDash":[2,2],"strokeWidth":1},"encoding":{"x":{"field":"i","type":"quantitative","scale":{"domain":[-0.3,286.1],"nice":false,"zero":false},"axis":null}}},
{"data":{"values":[{"v":30},{"v":70}]},"mark":{"type":"rule","color":"#bdbdbd","strokeDash":[3,3],"strokeWidth":1},"encoding":{"y":{"field":"v","type":"quantitative","scale":{"domain":[0,100],"nice":false,"zero":false},"axis":null}}},
{"data":{"name":"bars"},"mark":{"type":"line","color":"#e6a23a","strokeWidth":2},"encoding":{"x":{"field":"i","type":"quantitative","scale":{"domain":[-0.3,286.1],"nice":false,"zero":false},"axis":{"orient":"bottom","values":[0,16,32,48,64,80,96,112,128,144,160,176],"labelExpr":"['19 Oct 2015','20 Oct 04:00','20 Oct 20:00','21 Oct 12:00','22 Oct 04:00','22 Oct 20:00','23 Oct 12:00','26 Oct 04:00','26 Oct 20:00','27 Oct 12:00','28 Oct 04:00','28 Oct 20:00'][round(datum.value/16)]","labelAlign":"left","labelFlush":false,"labelOverlap":false,"tickSize":4,"labelPadding":1,"title":null}},"y":{"field":"r","type":"quantitative","scale":{"domain":[0,100],"nice":false,"zero":false},"axis":{"orient":"right","values":[0,30,70,100],"labelFlush":true,"labelOverlap":false,"labelBound":false,"tickSize":3,"labelPadding":2,"title":null}}}},
{"data":{"values":[{"i":1.2,"v":83,"t":"RSI(13) 33.7406"}]},"mark":{"type":"text","align":"left","baseline":"middle","fontSize":8,"font":"Liberation Sans","color":"#222"},"encoding":{"x":{"field":"i","type":"quantitative","scale":{"domain":[-0.3,286.1],"nice":false,"zero":false},"axis":null},"y":{"field":"v","type":"quantitative","scale":{"domain":[0,100],"nice":false,"zero":false},"axis":null},"text":{"field":"t"}}}
]}
]
}
